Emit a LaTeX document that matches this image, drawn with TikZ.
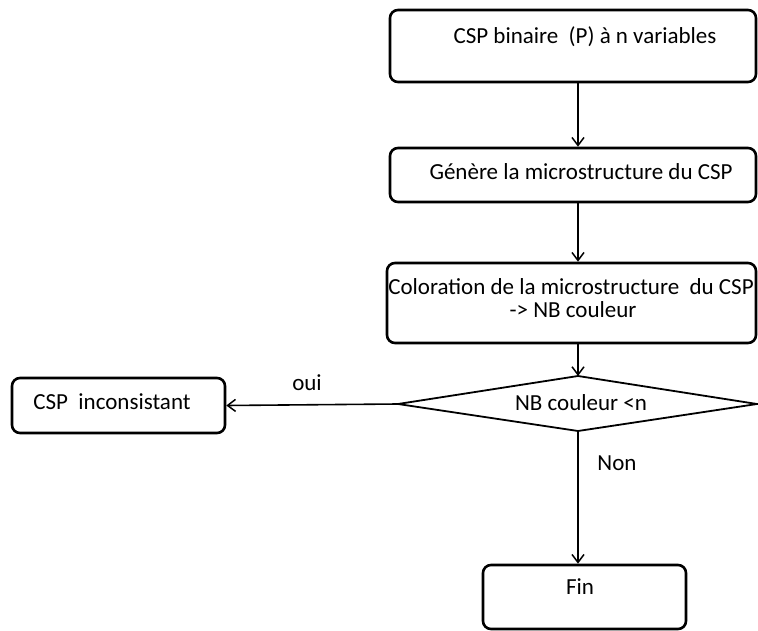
\documentclass[tikz,border=0pt]{standalone}
\usepackage{fontspec}
\setmainfont{Carlito}
\usetikzlibrary{arrows.meta}
\begin{document}
\begin{tikzpicture}[x=1pt,y=-1pt,
  box/.style={draw=black, line width=2.6pt, rounded corners=8pt, inner sep=0pt},
  txt/.style={inner sep=0pt, font=\fontsize{23}{27}\selectfont},
  arr/.style={line width=1.6pt, -{Straight Barb[length=8pt,width=12pt,line width=1.5pt]}},
  link/.style={line width=1.8pt}]
\useasboundingbox (0,0) rectangle (758,631);

% process boxes
\node[box, minimum width=366pt, minimum height=72pt] (b1) at (573,46) {};
\node[txt] (t1) at (585,37) {CSP binaire~~(P) à n variables};

\node[box, minimum width=366pt, minimum height=54pt] (b2) at (573,175) {};
\node[txt] (t2) at (581,172) {Génère la microstructure du CSP};

\node[box, minimum width=369pt, minimum height=80pt] (b3) at (571.5,303) {};
\node[txt] (t3a) at (571,287) {Coloration de la microstructure~ du CSP};
\node[txt] (t3b) at (573,310) {-> NB couleur};

% decision
\coordinate (dl) at (398,404);
\coordinate (dr) at (757,404);
\coordinate (dt) at (578,376);
\coordinate (db) at (578,431);
\draw[link, line join=miter] (dl) -- (dt) -- (dr) -- (db) -- cycle;
\node[txt] (dq) at (581,403) {NB couleur <n};

% outcomes
\node[box, minimum width=213pt, minimum height=55pt] (inc) at (118.5,405.5) {};
\node[txt] (tinc) at (112,402) {CSP~ inconsistant};

\node[box, minimum width=203pt, minimum height=64pt] (fin) at (584.5,597) {};
\node[txt] (tfin) at (580,587) {Fin};

% connectors
\draw[arr] (b1.south -| dt) -- (b2.north -| dt);
\draw[arr] (b2.south -| dt) -- (b3.north -| dt);
\draw[arr] (b3.south -| dt) -- (dt);
\draw[arr] (dl) -- (inc.east);
\draw[arr] (db) -- (fin.north -| db);

\node[txt] (oui) at (307,383) {oui};
\node[txt] (non) at (617,463) {Non};
\end{tikzpicture}
\end{document}
